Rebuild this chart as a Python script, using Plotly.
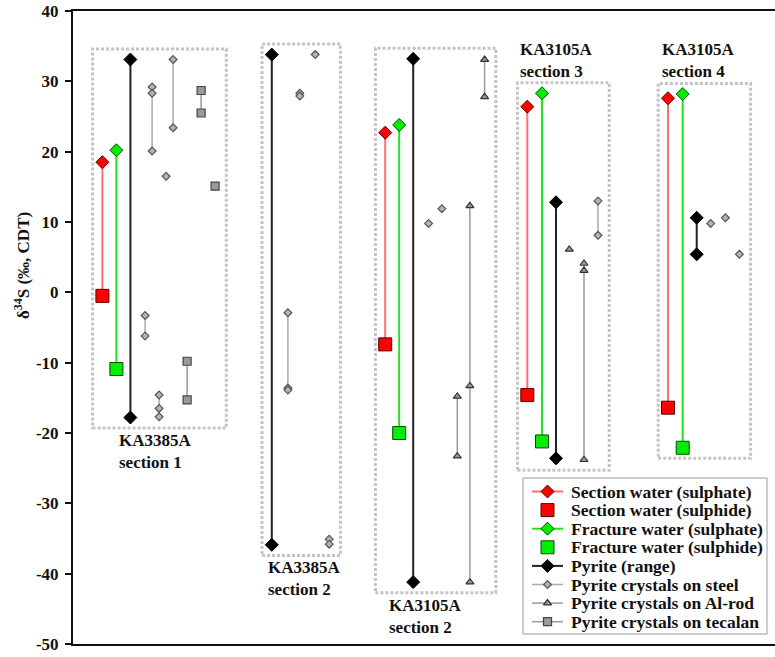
import plotly.graph_objects as go

# ---------------- data ----------------
section_labels = ["KA3385A<br>section 1", "KA3385A<br>section 2", "KA3105A<br>section 2",
                  "KA3105A<br>section 3", "KA3105A<br>section 4"]

section_sulphate = [18.5, None, 22.7, 26.4, 27.6]
section_sulphide = [-0.5, None, -7.4, -14.6, -16.4]
fracture_sulphate = [20.2, None, 23.8, 28.3, 28.2]
fracture_sulphide = [-10.9, None, -20.0, -21.2, -22.1]
pyrite_max = [33.1, 33.8, 33.2, 12.8, 10.6]
pyrite_min = [-17.8, -35.9, -41.2, -23.6, 5.4]

steel_values = [
    [[-3.3, -6.2], [29.2, 28.3, 20.1], [-14.6, -16.5, -17.7], [16.5], [33.1, 23.4]],
    [[-2.9, -13.6, -13.9], [28.3, 27.9], [33.8], [-35.1, -35.8]],
    [[9.8], [11.9]],
    [[13.0, 8.1]],
    [[9.8], [10.6], [5.4]],
]
alrod_values = [
    [],
    [],
    [[-14.8, -23.3], [12.3, -13.3, -41.2], [33.1, 27.8]],
    [[6.1], [4.1, 3.1, -23.8]],
    [],
]
tecalan_values = [
    [[-9.8, -15.3], [28.7, 25.5], [15.1]],
    [], [], [], [],
]

y_tick_values = [40, 30, 20, 10, 0, -10, -20, -30, -40, -50]
y_tick_labels = ["40", "30", "20", "10", "0", "-10", "-20", "-30", "-40", "-50"]
y_title = "δ<sup>34</sup>S (‰, CDT)"

legend_names = ["Section water (sulphate)", "Section water (sulphide)",
                "Fracture water (sulphate)", "Fracture water (sulphide)",
                "Pyrite (range)", "Pyrite crystals on steel",
                "Pyrite crystals on Al-rod", "Pyrite crystals on tecalan"]

# ---------------- layout of columns (horizontal slots) ----------------
water_col = [4.2, None, 44.6, 64.9, 85.0]
fracture_col = [6.2, None, 46.6, 67.0, 87.1]
pyrite_col = [8.2, 28.4, 48.6, 69.0, 89.1]
steel_col = [[10.3, 11.3, 12.3, 13.3, 14.3], [30.7, 32.4, 34.6, 36.6], [50.8, 52.7], [75.0], [91.1, 93.2, 95.2]]
alrod_col = [[], [], [54.9, 56.7, 58.8], [70.9, 73.0], []]
tecalan_col = [[16.3, 18.3, 20.3], [], [], [], []]
label_col = [11.8, 33.1, 50.3, 69.0, 89.4]
label_side = ["below", "below", "below", "above", "above"]

FONT = "Liberation Serif"
TXT = "#111111"

# ---------------- styles for every series ----------------
RED_DIAMOND = dict(symbol="diamond", size=10, color="#ff0000", line=dict(color="#5a0000", width=1))
RED_SQUARE = dict(symbol="square", size=13, color="#ff0000", line=dict(color="#5a0000", width=1))
GREEN_DIAMOND = dict(symbol="diamond", size=10, color="#00ee00", line=dict(color="#0a4a0a", width=1))
GREEN_SQUARE = dict(symbol="square", size=13, color="#00ee00", line=dict(color="#0a4a0a", width=1))
BLACK_DIAMOND = dict(symbol="diamond", size=10, color="#000000", line=dict(color="#000000", width=1))
STEEL_MK = dict(symbol="diamond", size=6, color="#b4b4b4", line=dict(color="#555555", width=1.2))
ALROD_MK = dict(symbol="triangle-up", size=7, color="#9a9a9a", line=dict(color="#333333", width=1.2))
TEC_MK = dict(symbol="square", size=8, color="#9a9a9a", line=dict(color="#444444", width=1.2))
RED_LINE = dict(color="#ff6f6f", width=2)
GREEN_LINE = dict(color="#22e022", width=2)
BLACK_LINE = dict(color="#222222", width=2)
STEEL_LINE = dict(color="#aaaaaa", width=1.5)
GRAY_LINE = dict(color="#999999", width=1.5)

legend_styles = [(RED_LINE, RED_DIAMOND), (None, RED_SQUARE), (GREEN_LINE, GREEN_DIAMOND),
                 (None, GREEN_SQUARE), (BLACK_LINE, BLACK_DIAMOND), (STEEL_LINE, STEEL_MK),
                 (GRAY_LINE, ALROD_MK), (GRAY_LINE, TEC_MK)]


def pair_segments(cols, tops, bottoms):
    xs, ys = [], []
    for c, t, b in zip(cols, tops, bottoms):
        if c is None or t is None:
            continue
        xs += [c, c, None]
        ys += [t, b, None]
    return xs, ys


def group_segments(cols_list, vals_list):
    xs, ys = [], []
    for cols, vals in zip(cols_list, vals_list):
        for c, group in zip(cols, vals):
            xs += [c] * len(group) + [None]
            ys += list(group) + [None]
    return xs, ys


fig = go.Figure()

x, y = pair_segments(water_col, section_sulphate, section_sulphide)
fig.add_trace(go.Scatter(x=x, y=y, mode="lines+markers", name=legend_names[0],
                         line=RED_LINE, marker=RED_DIAMOND))
x, y = pair_segments(fracture_col, fracture_sulphate, fracture_sulphide)
fig.add_trace(go.Scatter(x=x, y=y, mode="lines+markers", name=legend_names[2],
                         line=GREEN_LINE, marker=GREEN_DIAMOND))
x, y = pair_segments(pyrite_col, pyrite_max, pyrite_min)
fig.add_trace(go.Scatter(x=x, y=y, mode="lines+markers", name=legend_names[4],
                         line=BLACK_LINE, marker=BLACK_DIAMOND))
x, y = group_segments(steel_col, steel_values)
fig.add_trace(go.Scatter(x=x, y=y, mode="lines+markers", name=legend_names[5],
                         line=STEEL_LINE, marker=STEEL_MK))
x, y = group_segments(alrod_col, alrod_values)
fig.add_trace(go.Scatter(x=x, y=y, mode="lines+markers", name=legend_names[6],
                         line=GRAY_LINE, marker=ALROD_MK))
x, y = group_segments(tecalan_col, tecalan_values)
fig.add_trace(go.Scatter(x=x, y=y, mode="lines+markers", name=legend_names[7],
                         line=GRAY_LINE, marker=TEC_MK))
sx = [c for c, v in zip(water_col, section_sulphide) if v is not None]
sy = [v for v in section_sulphide if v is not None]
fig.add_trace(go.Scatter(x=sx, y=sy, mode="markers", name=legend_names[1], marker=RED_SQUARE))
fx = [c for c, v in zip(fracture_col, fracture_sulphide) if v is not None]
fy = [v for v in fracture_sulphide if v is not None]
fig.add_trace(go.Scatter(x=fx, y=fy, mode="markers", name=legend_names[3], marker=GREEN_SQUARE))

# dotted boxes around each section + section labels
shapes, annotations = [], []
for i in range(len(section_labels)):
    xs = [c for c in [water_col[i], fracture_col[i], pyrite_col[i]] if c is not None]
    xs += steel_col[i] + alrod_col[i] + tecalan_col[i]
    ys = [v for v in [section_sulphate[i], section_sulphide[i], fracture_sulphate[i],
                      fracture_sulphide[i], pyrite_max[i], pyrite_min[i]] if v is not None]
    for g in steel_values[i] + alrod_values[i] + tecalan_values[i]:
        ys += g
    x0, x1 = min(xs) - 1.4, max(xs) + 1.6
    y0, y1 = min(ys) - 1.5, max(ys) + 1.5
    shapes.append(dict(type="rect", xref="x", yref="y", x0=x0, x1=x1, y0=y0, y1=y1,
                       line=dict(color="#c4c4c4", width=3, dash="3px,2px"), layer="below"))
    below = label_side[i] == "below"
    annotations.append(dict(x=label_col[i], y=y0 if below else y1, xref="x", yref="y",
                            xanchor="center", yanchor="top" if below else "bottom",
                            yshift=-1 if below else 0, align="left", showarrow=False,
                            text=section_labels[i],
                            font=dict(family=FONT, size=17, color=TXT, weight="bold")))

# plot-area pixel frame: left 73, right 775, top 11, bottom 644
PL, PR, PT, PB = 73, 775, 11, 644

# y-axis title
annotations.append(dict(x=(22 - PL) / (PR - PL), y=(PB - 265) / (PB - PT), xref="paper",
                        yref="paper", text=y_title, textangle=-90, showarrow=False,
                        xanchor="center", yanchor="middle",
                        font=dict(family=FONT, size=17, color=TXT, weight="bold")))

# hand-drawn legend box in pixel frame (overlay axes x2/y2 map to pixels)
LEG_X0, LEG_X1, LEG_Y0, LEG_Y1 = 523, 767, 478, 634
ROW0, ROW_STEP = 491.5, 18.6
shapes.append(dict(type="rect", xref="x2", yref="y2", x0=LEG_X0, x1=LEG_X1, y0=LEG_Y0, y1=LEG_Y1,
                   line=dict(color="#9a9a9a", width=1), fillcolor="white", layer="below"))
for i, (name, (ln, mk)) in enumerate(zip(legend_names, legend_styles)):
    ry = ROW0 + ROW_STEP * i
    if ln is not None:
        fig.add_trace(go.Scatter(x=[532, 563], y=[ry, ry], mode="lines", line=ln,
                                 xaxis="x2", yaxis="y2", showlegend=False, hoverinfo="skip"))
    fig.add_trace(go.Scatter(x=[547.5], y=[ry], mode="markers", marker=mk,
                             xaxis="x2", yaxis="y2", showlegend=False, hoverinfo="skip"))
    annotations.append(dict(x=569, y=ry, xref="x2", yref="y2", text=name, showarrow=False,
                            xanchor="left", yanchor="middle",
                            font=dict(family=FONT, size=17.5, color=TXT, weight="bold")))

fig.update_layout(
    width=775, height=657,
    margin=dict(l=PL, r=775 - PR, t=PT, b=657 - PB, autoexpand=False),
    paper_bgcolor="white", plot_bgcolor="white",
    showlegend=False,
    shapes=shapes, annotations=annotations,
    xaxis=dict(range=[0, 702 / 7], showticklabels=False, showgrid=False, zeroline=False,
               showline=True, mirror=True, linecolor="#111", linewidth=2, ticks="",
               automargin=False),
    yaxis=dict(range=[-50, 40], tickvals=y_tick_values, ticktext=y_tick_labels,
               showgrid=False, zeroline=False, showline=True, linecolor="#111", linewidth=2,
               ticks="outside", ticklen=6, tickwidth=2, tickcolor="#111", automargin=False,
               ticklabelstandoff=3,
               tickfont=dict(family=FONT, size=17, color=TXT, weight="bold")),
    xaxis2=dict(range=[PL, PR], overlaying="x", visible=False, fixedrange=True),
    yaxis2=dict(range=[PB, PT], overlaying="y", visible=False, fixedrange=True),
)

fig.write_html("out.html", config={"displayModeBar": False},
               post_script="document.body.style.margin='0';")
